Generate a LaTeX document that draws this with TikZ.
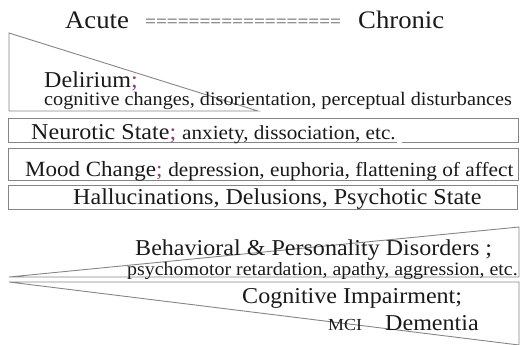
\documentclass[tikz,border=0pt]{standalone}
\usepackage{fontspec}
\setmainfont{Liberation Serif}
\usepackage{graphicx}
\definecolor{bandGray}{HTML}{858585}
\definecolor{semiPurple}{HTML}{8E3B7E}
\definecolor{txtBlack}{HTML}{1A1A1A}
\newcommand{\wideText}[1]{\scalebox{1.06}[1]{#1}}
\newcommand{\semi}{{\color{semiPurple};}}

\begin{document}
\begin{tikzpicture}[
    x=1pt, y=-1pt,
    band/.style={draw=bandGray, line width=0.9pt},
    bigtxt/.style={anchor=base west, inner sep=0pt, text=txtBlack,
                   font=\fontsize{22.7}{26}\selectfont},
    smalltxt/.style={bigtxt, font=\fontsize{19}{22}\selectfont},
    titletxt/.style={bigtxt, font=\fontsize{25.2}{29}\selectfont},
]
\useasboundingbox (0,0) rectangle (522,345);

%-----------------------------------------------------------------------
% title
\node[titletxt] (acute) at (65,29) {\wideText{Acute}};
\node[bigtxt,font=\fontsize{18.2}{21}\selectfont,text=black!65] (dashes) at (145,28)
  {\wideText{==================}};
\node[titletxt] (chronic) at (358,29) {\wideText{Chronic}};

%-----------------------------------------------------------------------
% bands (acute at top, chronic at bottom)
\draw[band] (9,33) -- (9,111) -- (258,111) -- cycle; % delirium
\draw[band] (397,142) -- (8,142) -- (8,118) -- (518,118) -- (518,142) -- (402,142); % neurotic
\draw[band] (8,148) rectangle (518,180); % mood
\draw[band] (8,185) rectangle (517,209); % psychotic
\draw[band] (9,277) -- (519,227) -- (519,277) -- cycle; % behavioral
\draw[band] (9,282) -- (519,282) -- (519,345) -- cycle; % cognitive

%-----------------------------------------------------------------------
% band texts
\node[bigtxt] (delirium) at (44,88) {\wideText{Delirium\semi}};
\node[smalltxt,font=\fontsize{19.1}{22}\selectfont] (delirium2) at (44,106)
  {\wideText{cognitive changes, disorientation, perceptual disturbances}};

\node[bigtxt] (neurotic) at (31,139)
  {\wideText{Neurotic State\semi{} {\fontsize{20}{22}\selectfont anxiety, dissociation, etc.}}};

\node[bigtxt,font=\fontsize{21.7}{25}\selectfont] (mood) at (25,176)
  {\wideText{Mood Change\semi{} {\fontsize{20.1}{22}\selectfont depression, euphoria, flattening of affect}}};

\node[bigtxt] (psychotic) at (73,204)
  {\wideText{Hallucinations, Delusions, Psychotic State}};

\node[bigtxt] (behavioral) at (135,255)
  {\wideText{Behavioral \& Personality Disorders ;}};
\node[smalltxt,font=\fontsize{18.8}{22}\selectfont] (behavioral2) at (127,275)
  {\wideText{psychomotor retardation, apathy, aggression, etc.}};

\node[bigtxt] (cognitive) at (242,303) {\wideText{Cognitive Impairment;}};
\node[smalltxt,font=\fontsize{16.9}{20}\selectfont] (mci) at (328,330) {\wideText{MCI}};
\node[bigtxt] (dementia) at (385,330) {\wideText{Dementia}};

\end{tikzpicture}
\end{document}
